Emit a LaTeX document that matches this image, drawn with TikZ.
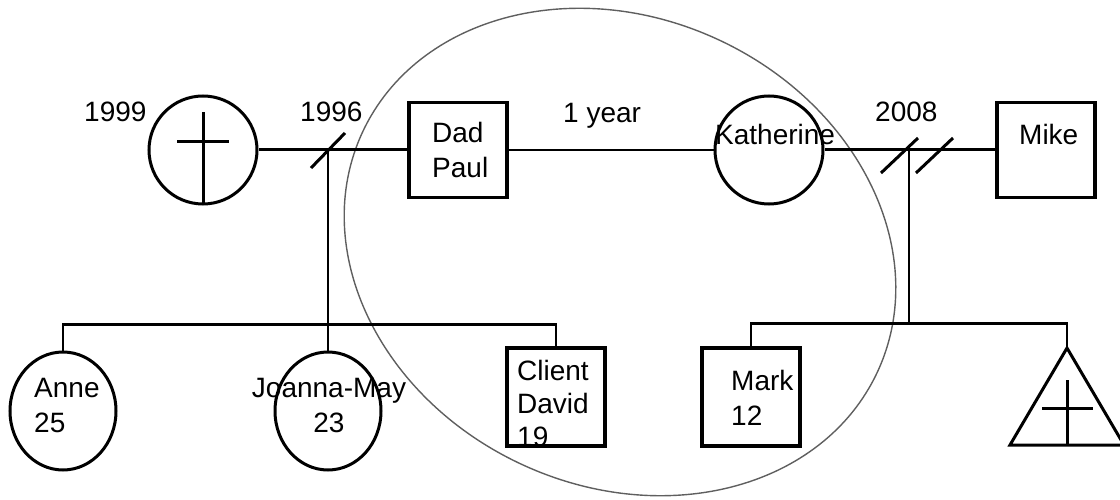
\documentclass[tikz,border=0pt]{standalone}
\usepackage{fontspec}
\setmainfont{Liberation Sans}
\usetikzlibrary{shapes.geometric, positioning}
\definecolor{ringgray}{RGB}{95, 95, 95}

\begin{document}
\begin{tikzpicture}[x=1pt, y=-1pt,
  male/.style={draw, rectangle, line width=3.2pt, minimum width=98, minimum height=95, inner sep=0pt},
  female/.style={draw, circle, line width=3pt, minimum size=108, inner sep=0pt},
  daughter/.style={draw, ellipse, line width=3pt, minimum width=106, minimum height=118, inner sep=0pt},
  nametext/.style={inner sep=0pt, anchor=base west, font=\fontsize{28}{35}\selectfont},
  marriage/.style={line width=3pt},
  sibline/.style={line width=2.4pt},
  cutmark/.style={line width=3pt}
]
  \useasboundingbox (0,0) rectangle (1120,500);

  % Ring round the client's household
  \draw[ringgray, line width=1.4pt, rotate around={-25:(620,252)}] (620,252) ellipse [x radius=284, y radius=234];

  % Parents
  \node[female] (firstwife) at (203,150) {};
  \draw[line width=3pt] (firstwife.south) -- (203,112);
  \draw[line width=3pt] (177,142) -- (229,142);
  \node[male] (dad) at (458,150) {};
  \node[female] (katherine) at (769,150) {};
  \node[male] (mike) at (1046,150) {};

  % Children
  \node[daughter] (anne) at (63,411) {};
  \node[daughter] (joanna) at (328,411) {};
  \node[male, minimum height=98] (client) at (556,397) {};
  \node[male, minimum height=98] (mark) at (751,397) {};
  \coordinate (stillbirth) at (1067,348);
  \draw[line width=3pt, line join=miter] (stillbirth) -- (1010,445) -- (1124,445) -- cycle;
  \draw[line width=3pt] (1067,380) -- (1067,445) (1042,408) -- (1093,408);

  % Dates and names
  \node[nametext] (y1999) at (84,122) {1999};
  \node[nametext] (y1996) at (300,122) {1996};
  \node[nametext] (together) at (563,123) {1 year};
  \node[nametext] (y2008) at (875,122) {2008};
  \node[nametext] (katname) at (715,145) {Katherine};
  \node[nametext] (mikename) at (1019,145) {Mike};
  \node[nametext, text width=80, align=left] (dadname) at (432,143) {Dad\\Paul};
  \node[nametext, text width=80, align=left] (annename) at (34,397) {Anne\\25};
  \node[nametext, anchor=base, text width=170, align=center] (joname) at (329,397) {Joanna-May\\23};
  \node[nametext, text width=85, align=left, font=\fontsize{28}{33}\selectfont] (clientname) at (517,380) {Client\\David\\19};
  \node[nametext, text width=80, align=left] (markname) at (731,390) {Mark\\12};

  % First marriage
  \draw[marriage] (firstwife) -- (dad);
  \coordinate (wed1) at (328,150);
  \draw[cutmark] (wed1) ++(-17,18) -- ++(34,-35);
  \draw[sibline] (wed1) -- (joanna);
  \draw[sibline] (anne.north) -- ++(0,-26) -| (client.north);

  % Dad and Katherine
  \draw[line width=1.8pt] (dad) -- (katherine);

  % Second marriage
  \draw[marriage] (katherine) -- (mike);
  \coordinate (wed2) at (909,150);
  \draw[cutmark] (wed2) ++(-28,23) -- ++(37,-35);
  \draw[cutmark] (wed2) ++(7,23) -- ++(37,-35);
  \draw[sibline] (wed2) -- ++(0,175);
  \draw[sibline] (mark.north) -- ++(0,-23) -| (stillbirth);
\end{tikzpicture}
\end{document}
